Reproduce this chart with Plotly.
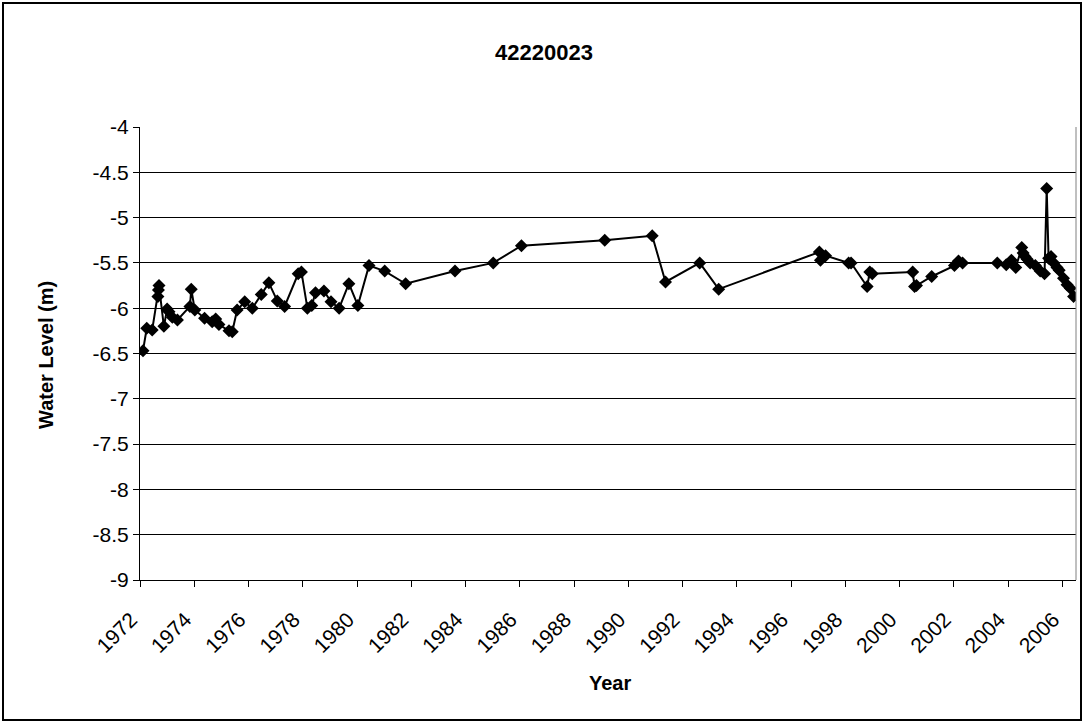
import plotly.graph_objects as go

# Observation dates (decimal years) and water levels (m)
years = [
    1972.11, 1972.25, 1972.45, 1972.66, 1972.68, 1972.70, 1972.88, 1973.00,
    1973.07, 1973.19, 1973.38, 1973.84, 1973.89, 1974.02, 1974.38, 1974.66,
    1974.79, 1974.91, 1975.28, 1975.40, 1975.58, 1975.86, 1976.14, 1976.47,
    1976.75, 1977.06, 1977.33, 1977.83, 1977.95, 1978.17, 1978.33, 1978.47,
    1978.78, 1979.04, 1979.34, 1979.70, 1980.03, 1980.44, 1981.02, 1981.79,
    1983.61, 1985.02, 1986.06, 1989.13, 1990.88, 1991.37, 1992.63, 1993.33,
    1997.04, 1997.08, 1997.27, 1998.12, 1998.21, 1998.80, 1998.90, 1998.99,
    2000.48, 2000.55, 2000.62, 2001.18, 2002.02, 2002.17, 2002.32, 2003.60,
    2003.93, 2004.12, 2004.28, 2004.50, 2004.55, 2004.62, 2004.70, 2004.81,
    2005.00, 2005.18, 2005.34, 2005.42, 2005.49, 2005.58, 2005.68, 2005.80,
    2005.88, 2006.04, 2006.17, 2006.29, 2006.41,
]
levels = [
    -6.47, -6.22, -6.24, -5.87, -5.80, -5.75, -6.20, -6.01,
    -6.04, -6.10, -6.13, -5.98, -5.79, -6.02, -6.11, -6.15,
    -6.12, -6.18, -6.25, -6.26, -6.02, -5.93, -6.00, -5.85,
    -5.72, -5.92, -5.98, -5.62, -5.60, -6.00, -5.97, -5.83,
    -5.81, -5.93, -6.00, -5.73, -5.97, -5.53, -5.59, -5.73,
    -5.59, -5.50, -5.31, -5.25, -5.20, -5.71, -5.50, -5.79,
    -5.38, -5.47, -5.42, -5.50, -5.50, -5.76, -5.60, -5.62,
    -5.60, -5.76, -5.75, -5.65, -5.53, -5.48, -5.50, -5.50,
    -5.52, -5.47, -5.55, -5.33, -5.39, -5.43, -5.46, -5.50,
    -5.53, -5.59, -5.62, -4.68, -5.45, -5.43, -5.50, -5.55,
    -5.58, -5.67, -5.74, -5.78, -5.87,
]

x_ticks = list(range(1972, 2007, 2))
y_ticks = [-4, -4.5, -5, -5.5, -6, -6.5, -7, -7.5, -8, -8.5, -9]

FONT = "Arial, Liberation Sans, sans-serif"
W, H = 1085, 723
L, R, T, B = 140, 9, 127, 143
pw, ph = W - L - R, H - T - B


def px_x(p):
    return (p - L) / pw


def px_y(p):
    return (H - B - p) / ph


fig = go.Figure()
fig.add_trace(go.Scatter(
    x=years, y=levels, mode="lines+markers",
    line=dict(color="black", width=2),
    marker=dict(symbol="diamond", size=10, color="black"),
    showlegend=False,
))

fig.update_layout(
    width=W, height=H,
    margin=dict(l=L, r=R, t=T, b=B, pad=0),
    paper_bgcolor="white", plot_bgcolor="white",
    font=dict(family=FONT, color="black", size=21),
    xaxis=dict(
        range=[1972, 2006.5], tickvals=x_ticks, ticktext=[str(v) for v in x_ticks],
        tickangle=-45, ticks="outside", ticklen=6, tickcolor="black",
        ticklabelstandoff=12, ticklabelshift=-9,
        showline=True, linecolor="black", linewidth=1,
        showgrid=False, zeroline=False,
        tickfont=dict(size=21),
    ),
    yaxis=dict(
        range=[-9, -4], tickvals=y_ticks, ticktext=[f"{v:g}" for v in y_ticks],
        ticks="outside", ticklen=6, tickcolor="black",
        showline=True, linecolor="black", linewidth=1,
        showgrid=True, gridcolor="black", gridwidth=1, zeroline=False,
        tickfont=dict(size=21),
    ),
    shapes=[
        # right edge of the plot area
        dict(type="line", xref="paper", yref="paper", x0=1, x1=1, y0=0, y1=1,
             line=dict(color="#808080", width=1)),
        # chart frame
        dict(type="rect", xref="paper", yref="paper",
             x0=px_x(3), x1=px_x(1081), y0=px_y(720), y1=px_y(3),
             line=dict(color="black", width=2)),
    ],
    annotations=[
        dict(text="<b>42220023</b>", xref="paper", yref="paper",
             x=px_x(544), y=px_y(52), xanchor="center", yanchor="middle",
             showarrow=False, font=dict(size=22, family=FONT)),
        dict(text="<b>Year</b>", xref="paper", yref="paper",
             x=px_x(610), y=px_y(683), xanchor="center", yanchor="middle",
             showarrow=False, font=dict(size=20, family=FONT)),
        dict(text="<b>Water Level (m)</b>", xref="paper", yref="paper",
             x=px_x(46), y=px_y(355), xanchor="center", yanchor="middle",
             showarrow=False, textangle=-90, font=dict(size=20, family=FONT)),
    ],
)

fig.write_html("out.html")
